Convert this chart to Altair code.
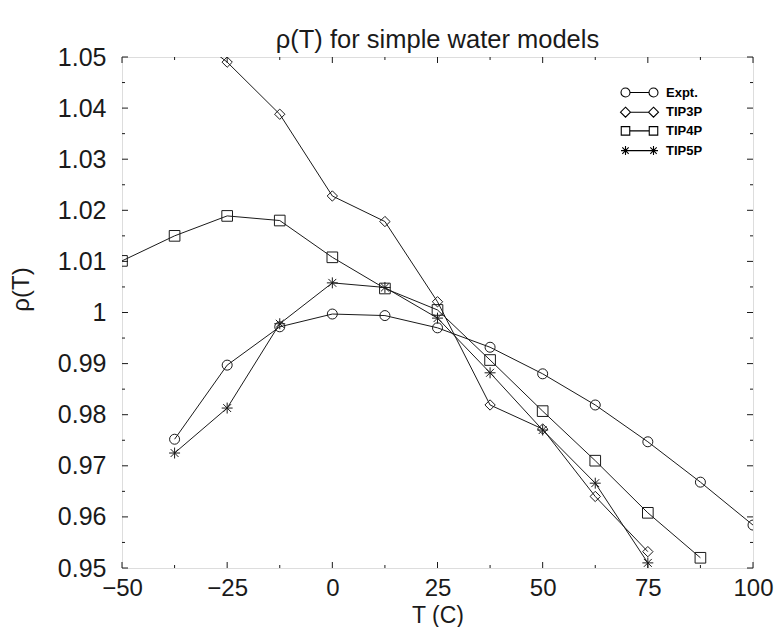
import altair as alt
import pandas as pd

# ---------------- data ----------------
series_names = ["Expt.", "TIP3P", "TIP4P", "TIP5P"]

T_expt = [-37.5, -25, -12.5, 0, 12.5, 25, 37.5, 50, 62.5, 75, 87.5, 100]
rho_expt = [0.9752, 0.9897, 0.9972, 0.9997, 0.9994, 0.9970, 0.9932, 0.9880, 0.9819, 0.9747, 0.9668, 0.9584]

T_tip3p = [-37.5, -25, -12.5, 0, 12.5, 25, 37.5, 50, 62.5, 75]
rho_tip3p = [1.0570, 1.0490, 1.0388, 1.0228, 1.0178, 1.0021, 0.9819, 0.9772, 0.9640, 0.9532]

T_tip4p = [-50, -37.5, -25, -12.5, 0, 12.5, 25, 37.5, 50, 62.5, 75, 87.5]
rho_tip4p = [1.0101, 1.0150, 1.0189, 1.0180, 1.0108, 1.0047, 1.0005, 0.9907, 0.9807, 0.9710, 0.9608, 0.9520]

T_tip5p = [-37.5, -25, -12.5, 0, 12.5, 25, 37.5, 50, 62.5, 75]
rho_tip5p = [0.9725, 0.9813, 0.9978, 1.0058, 1.0049, 0.9989, 0.9882, 0.9770, 0.9666, 0.9510]

x_major = [-50, -25, 0, 25, 50, 75, 100]
x_minor = [-37.5, -12.5, 12.5, 37.5, 62.5, 87.5]
y_major = [0.95, 0.96, 0.97, 0.98, 0.99, 1.00, 1.01, 1.02, 1.03, 1.04, 1.05]
y_minor = [0.955, 0.965, 0.975, 0.985, 0.995, 1.005, 1.015, 1.025, 1.035, 1.045]

rows = []
for name, ts, vs in zip(series_names,
                        [T_expt, T_tip3p, T_tip4p, T_tip5p],
                        [rho_expt, rho_tip3p, rho_tip4p, rho_tip5p]):
    for t, v in zip(ts, vs):
        rows.append({"series": name, "T": t, "rho": v})
df = pd.DataFrame(rows)

# ---------------- styling ----------------
W, H = 631, 511
PAD_L, PAD_T = 114, 49
INK = "#1a1a1a"
FONT = "Liberation Sans"

STAR = "M-1,0L1,0M0,-1L0,1M-0.72,-0.72L0.72,0.72M-0.72,0.72L0.72,-0.72"
shape_range = ["circle", "diamond", "square", STAR]
size_range = [100, 120, 80, 90]
stroke_range = [1, 1, 1, 1.6]


def _legend_path(kind, a=2.8):
    if kind == "circle":
        r = 0.9
        m = lambda c: f"M{c - r},0A{r},{r} 0 1,0 {c + r},0A{r},{r} 0 1,0 {c - r},0"
        line = f"M{-a + r},0L{a - r},0"
    elif kind == "diamond":
        r = 1.0
        m = lambda c: f"M{c},{-r}L{c + r},0L{c},{r}L{c - r},0Z"
        line = f"M{-a + r},0L{a - r},0"
    elif kind == "square":
        r = 0.85
        m = lambda c: f"M{c - r},{-r}L{c + r},{-r}L{c + r},{r}L{c - r},{r}Z"
        line = f"M{-a + r},0L{a - r},0"
    else:
        r = 0.9
        d = 0.64
        m = lambda c: (f"M{c - r},0L{c + r},0M{c},{-r}L{c},{r}"
                       f"M{c - d},{-d}L{c + d},{d}M{c - d},{d}L{c + d},{-d}")
        line = f"M{-a},0L{a},0"
    return m(-a) + line + m(a)


legend_range = [_legend_path(k) for k in ["circle", "diamond", "square", "star"]]

xs = alt.Scale(domain=[-50, 100], nice=False, zero=False)
ys = alt.Scale(domain=[0.95, 1.05], nice=False, zero=False)

x_axis = alt.Axis(values=x_major, ticks=False, domain=False, grid=False,
                  labelFontSize=24, labelPadding=8, labelFont=FONT, labelColor=INK,
                  labelFlush=False, title="T (C)", titleFont=FONT, titleFontSize=23,
                  titleFontWeight="normal", titleColor=INK,
                  titleBaseline="alphabetic", titleY=54)
y_axis = alt.Axis(values=y_major, format="~f", ticks=False, domain=False, grid=False,
                  labelFontSize=25, labelPadding=16, labelFont=FONT, labelColor=INK,
                  labelFlush=False, title="ρ(T)", titleFont=FONT, titleFontSize=24,
                  titleFontWeight="normal", titleColor=INK, titlePadding=24, titleY=232)

X = alt.X("T:Q", scale=xs, axis=x_axis)
Y = alt.Y("rho:Q", scale=ys, axis=y_axis)

lines = alt.Chart(df).mark_line(color=INK, strokeWidth=1, clip=True).encode(
    x=X, y=Y, detail="series:N", order="T:Q")

points = alt.Chart(df).mark_point(filled=False, color=INK, clip=True,
                                  opacity=1).encode(
    x=X, y=Y,
    shape=alt.Shape("series:N", scale=alt.Scale(domain=series_names, range=shape_range),
                    legend=None),
    size=alt.Size("series:N", scale=alt.Scale(domain=series_names, range=size_range),
                  legend=None),
    strokeWidth=alt.StrokeWidth("series:N",
                                scale=alt.Scale(domain=series_names, range=stroke_range),
                                legend=None),
)

legend_layer = alt.Chart(df).transform_filter("false").mark_point(
    filled=False, color="black", strokeWidth=1.1, size=100, opacity=1).encode(
    x=X, y=Y,
    shape=alt.Shape("series:N", scale=alt.Scale(domain=series_names, range=legend_range),
                    legend=alt.Legend(title=None, orient="none", legendX=511, legendY=29,
                                      symbolSize=100, symbolStrokeWidth=1.1,
                                      symbolStrokeColor="black",
                                      labelFont=FONT, labelFontSize=13,
                                      labelFontWeight="bold", labelColor="black",
                                      labelOffset=20, rowPadding=4.7, padding=0)),
)

# inward ticks on all four sides
ymaj = pd.DataFrame({"rho": y_major})
ymin = pd.DataFrame({"rho": y_minor})
xmaj = pd.DataFrame({"T": x_major})
xmin = pd.DataFrame({"T": x_minor})


def yticks(data, length):
    left = alt.Chart(data).mark_rule(color=INK, strokeWidth=1).encode(
        y=Y, x=alt.value(0), x2=alt.value(length))
    right = alt.Chart(data).mark_rule(color=INK, strokeWidth=1).encode(
        y=Y, x=alt.value(W - length), x2=alt.value(W))
    return [left, right]


def xticks(data, length):
    bottom = alt.Chart(data).mark_rule(color=INK, strokeWidth=1).encode(
        x=X, y=alt.value(H - length), y2=alt.value(H))
    top = alt.Chart(data).mark_rule(color=INK, strokeWidth=1).encode(
        x=X, y=alt.value(0), y2=alt.value(length))
    return [bottom, top]


tick_layers = yticks(ymaj, 6) + yticks(ymin, 3) + xticks(xmaj, 6) + xticks(xmin, 3)

chart = alt.layer(*tick_layers, lines, points, legend_layer).resolve_scale(
    shape="independent", size="independent", strokeWidth="independent"
).properties(
    width=W, height=H,
    title=alt.Title("ρ(T) for simple water models", font=FONT, fontSize=25.5,
                    fontWeight="normal", color=INK, anchor="middle", offset=6, dy=14),
    autosize=alt.AutoSizeParams(type="none"),
    padding={"left": PAD_L, "top": PAD_T, "right": 766 - PAD_L - W,
             "bottom": 619 - PAD_T - H},
).configure_view(
    stroke=INK, strokeWidth=1.6
).configure(background="white")

chart.save("out.html", embed_options={"renderer": "svg", "actions": False})
